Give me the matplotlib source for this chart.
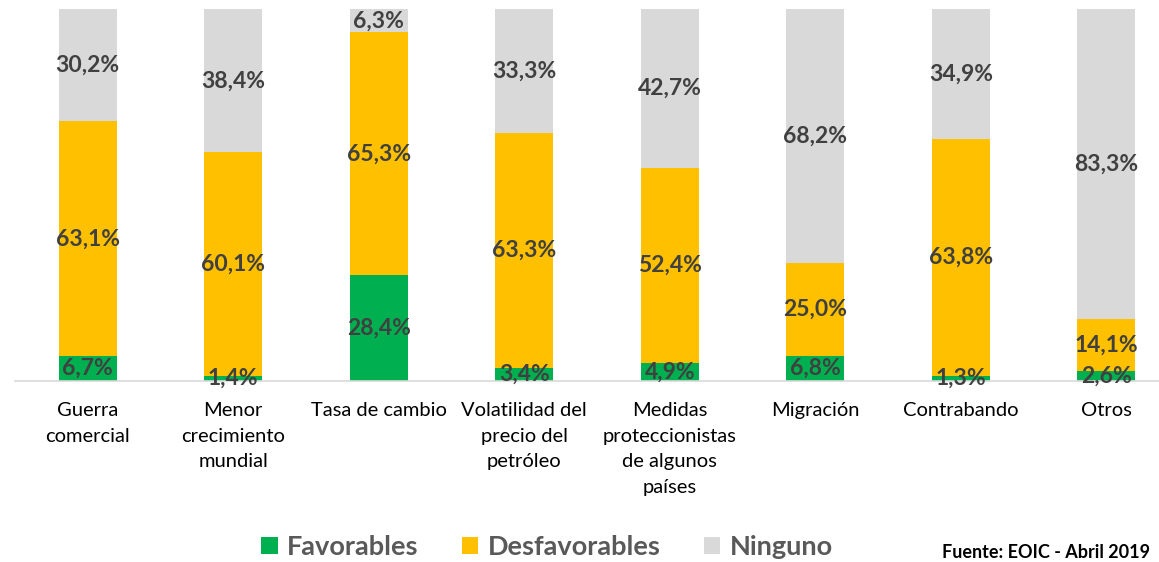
import matplotlib.pyplot as plt
import numpy as np

plt.rcParams['font.family'] = ['Lato', 'DejaVu Sans']

categories = ["Guerra\ncomercial", "Menor\ncrecimiento\nmundial", "Tasa de cambio",
              "Volatilidad del\nprecio del\npetróleo", "Medidas\nproteccionistas\nde algunos\npaíses",
              "Migración", "Contrabando", "Otros"]
favorables = [6.7, 1.4, 28.4, 3.4, 4.9, 6.8, 1.3, 2.6]
desfavorables = [63.1, 60.1, 65.3, 63.3, 52.4, 25.0, 63.8, 14.1]
ninguno = [30.2, 38.4, 6.3, 33.3, 42.7, 68.2, 34.9, 83.3]

series = [("Favorables", favorables, "#00B050"),
          ("Desfavorables", desfavorables, "#FFC000"),
          ("Ninguno", ninguno, "#D9D9D9")]

W, H = 1159, 562
fig = plt.figure(figsize=(W / 100, H / 100), dpi=100)
# axes placed in pixel coords: left edge 15px, right edge off canvas
ax = fig.add_axes([15 / W, 1 - 381 / H, (1159 - 15) / W, (381 - 9) / H])

x = np.arange(len(categories))
bottom = np.zeros(len(categories))
handles = []
for name, vals, col in series:
    vals = np.array(vals)
    b = ax.bar(x, vals, 0.4, bottom=bottom, color=col, label=name)
    handles.append(b)
    for xi, v, bt in zip(x, vals, bottom):
        ax.text(xi, bt + v / 2, f"{v:.1f}%".replace(".", ","), ha="center", va="center",
                fontsize=16.5, fontweight="bold", color="#404040")
    bottom += vals

ax.set_xlim(-0.5, 7.5 - 20 / 145.6)
ax.set_ylim(0, 100)
ax.set_xticks(x)
ax.set_xticklabels(categories, fontsize=14.5, color="#000000", linespacing=1.62, va="top")
ax.tick_params(axis="x", length=0, pad=15)
ax.set_yticks([])
for s in ["top", "right", "left"]:
    ax.spines[s].set_visible(False)
ax.spines["bottom"].set_color("#D9D9D9")
ax.spines["bottom"].set_linewidth(1.2)

leg = fig.legend(handles=handles, loc="center", bbox_to_anchor=(0.472, 1 - 547 / H), ncol=3,
                 frameon=False, handlelength=0.6, handleheight=0.6, handletextpad=0.35,
                 columnspacing=1.6, prop={"size": 19.5, "weight": "bold"})
for t in leg.get_texts():
    t.set_color("#595959")

fig.text(942 / W, 1 - 553 / H, "Fuente: EOIC - Abril 2019", ha="left", va="center",
         fontsize=13, fontweight="bold", color="#000000")

fig.savefig("out.png", dpi=100)
